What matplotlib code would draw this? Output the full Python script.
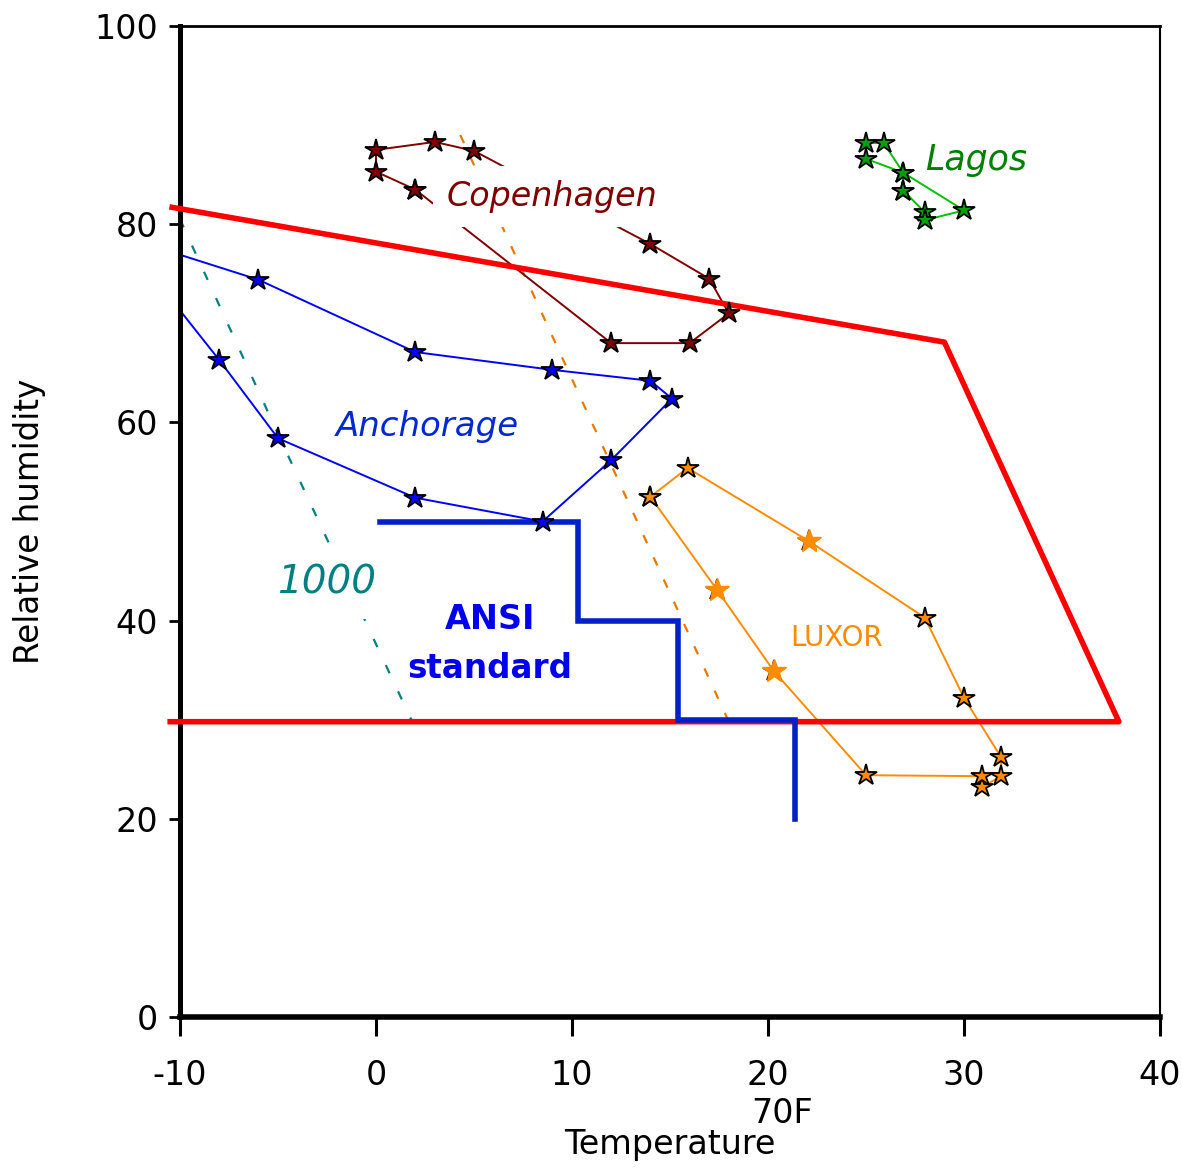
import matplotlib
matplotlib.use('Agg')
import matplotlib.pyplot as plt

plt.rcParams['axes.unicode_minus'] = False

# Copenhagen monthly climate (temperature C, relative humidity %)
copen_t = [2, 0, 0, 3, 5, 14, 17, 18, 16, 12, 2]
copen_rh = [83.5, 85.3, 87.5, 88.3, 87.4, 78.0, 74.5, 71.0, 68.0, 68.0, 83.5]

# Lagos
lagos_t = [26.9, 28.0, 28.0, 30.0, 26.9, 25.9, 25.0, 25.0, 26.9, 26.9]
lagos_rh = [83.4, 81.2, 80.4, 81.4, 85.2, 88.2, 88.2, 86.6, 85.2, 83.4]

# Anchorage (first/last point lies left of the axis)
anch_t = [-13.0, -6.0, 2.0, 9.0, 14.0, 15.1, 12.0, 8.5, 2.0, -5.0, -8.0, -13.0]
anch_rh = [78.8, 74.4, 67.1, 65.3, 64.2, 62.4, 56.2, 50.0, 52.4, 58.4, 66.3, 78.8]

# Luxor
luxor_t = [14.0, 15.9, 22.1, 28.0, 30.0, 31.9, 31.9, 30.9, 30.9, 25.0, 20.3, 17.4, 14.0]
luxor_rh = [52.5, 55.4, 48.0, 40.3, 32.2, 26.2, 24.3, 23.2, 24.3, 24.4, 34.9, 43.1, 52.5]
luxor_plain = [2, 10, 11]

# comfort zone outline
comfort_t = [-10.4, 29.0, 37.9, -10.5]
comfort_rh = [81.7, 68.1, 29.8, 29.8]

# ANSI standard step line
ansi_t = [0.2, 10.3, 10.3, 15.4, 15.4, 21.4, 21.4]
ansi_rh = [50, 50, 40, 40, 30, 30, 20]

# 1000 isoline and orange dashed line
iso_t = [-10.0, -4.9, 1.8]
iso_rh = [80.5, 58.4, 30.0]
dash_t = [4.3, 18.3]
dash_rh = [89.0, 28.5]

xticks = [-10, 0, 10, 20, 30, 40]
yticks = [0, 20, 40, 60, 80, 100]

fig = plt.figure(figsize=(11.82, 11.68), dpi=100)
ax = fig.add_axes([180 / 1182, 151 / 1168, 980 / 1182, 991 / 1168])

ax.plot(iso_t, iso_rh, color='#008080', lw=1.6, dashes=(4, 9), zorder=2)
ax.plot(dash_t, dash_rh, color='#e87800', lw=1.6, dashes=(4, 7), zorder=2)

cities = [
    (copen_t, copen_rh, '#800000', '#800000'),
    (lagos_t, lagos_rh, '#00c000', '#00a000'),
    (anch_t, anch_rh, '#0000ff', '#0000ff'),
    (luxor_t, luxor_rh, '#ff8c00', '#ff8c00'),
]
for t, rh, lc, fc in cities:
    # line under the label boxes, stars on top
    ax.plot(t, rh, color=lc, lw=1.4, zorder=2.5)
    ax.plot(t, rh, ls='none', marker='*', markersize=16, markerfacecolor=fc,
            markeredgecolor='black', markeredgewidth=1.3, zorder=4)
ax.plot([luxor_t[i] for i in luxor_plain], [luxor_rh[i] for i in luxor_plain],
        ls='none', marker='*', markersize=18, color='#ff8c00', zorder=5)

ax.plot(comfort_t, comfort_rh, color='#ff0000', lw=4, clip_on=False, zorder=3)
ax.plot(ansi_t, ansi_rh, color='#0020c8', lw=4, solid_joinstyle='miter', zorder=3)

ax.text(9.0, 82.8, 'Copenhagen', color='#800000', fontsize=24, style='italic',
        ha='center', va='center', zorder=3.5,
        bbox=dict(facecolor='white', edgecolor='none', pad=10))
ax.text(30.6, 86.5, 'Lagos', color='#008000', fontsize=25, style='italic',
        ha='center', va='center', zorder=6)
ax.text(2.6, 59.6, 'Anchorage', color='#0028d0', fontsize=24.5, style='italic',
        ha='center', va='center', zorder=6)
ax.text(23.5, 38.2, 'LUXOR', color='#ff8c00', fontsize=20,
        ha='center', va='center', zorder=6)
ax.text(-2.5, 43.8, '1000', color='#008080', fontsize=28, style='italic',
        ha='center', va='center', zorder=3.5,
        bbox=dict(facecolor='white', edgecolor='none', pad=12))
ax.text(5.8, 40.1, 'ANSI', color='#0000ee', fontsize=24, fontweight='bold',
        ha='center', va='center', zorder=6)
ax.text(5.8, 35.2, 'standard', color='#0000ee', fontsize=23.5, fontweight='bold',
        ha='center', va='center', zorder=6)

ax.set_xlim(-10, 40)
ax.set_ylim(0, 100)
ax.set_xticks(xticks)
ax.set_yticks(yticks)
ax.tick_params(axis='x', direction='out', length=14, width=2.2, labelsize=24, pad=16)
ax.tick_params(axis='y', direction='out', length=8, width=2, labelsize=24, pad=8)

ax.spines['left'].set_linewidth(3.6)
ax.spines['bottom'].set_linewidth(4)
ax.spines['top'].set_linewidth(2)
ax.spines['right'].set_linewidth(1.5)

ax.set_xlabel('Temperature', fontsize=24)
ax.xaxis.set_label_coords(0.5, -0.112)
ax.set_ylabel('Relative humidity', fontsize=23.5)
ax.yaxis.set_label_coords(-0.137, 0.5)
ax.annotate('70F', xy=(20.7, -0.097), xycoords=('data', 'axes fraction'),
            fontsize=24, ha='center', va='center', annotation_clip=False)

fig.savefig('out.png', dpi=100)
